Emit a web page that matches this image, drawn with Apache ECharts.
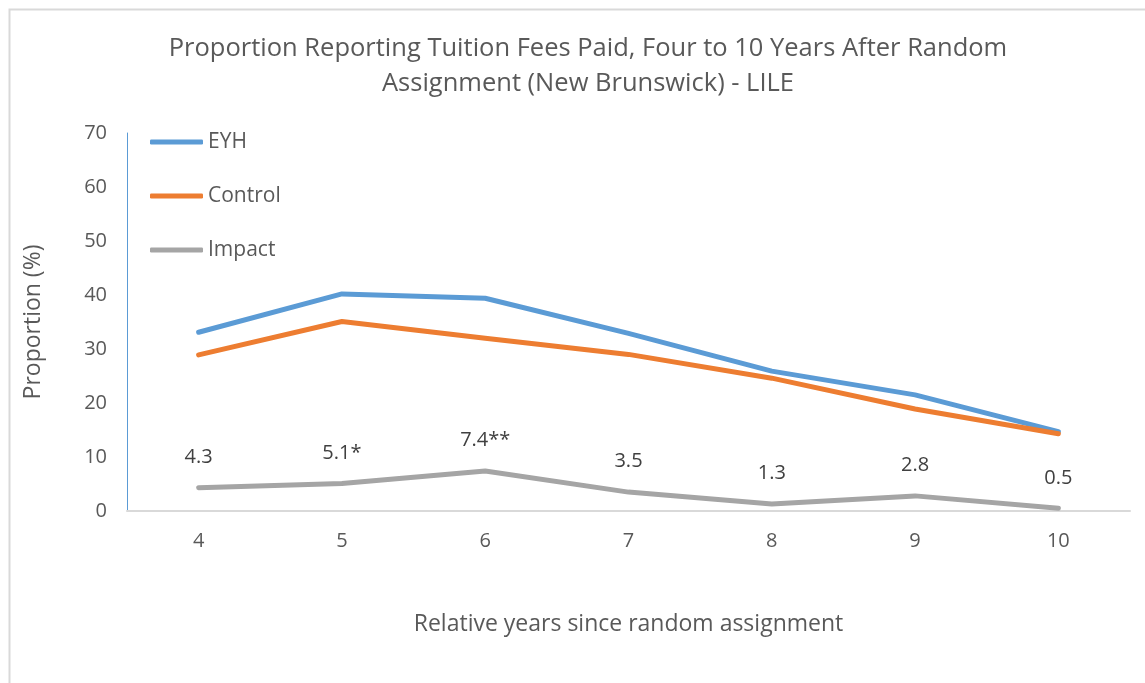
<!DOCTYPE html>
<html>
<head>
<meta charset="utf-8">
<script src="https://cdn.jsdelivr.net/npm/echarts@6/dist/echarts.min.js"></script>
<style>
  html, body { margin: 0; padding: 0; background: #fff; }
  #chart { width: 1145px; height: 683px; }
</style>
</head>
<body>
<div id="chart"></div>
<script>
// years since random assignment
const years = ['4', '5', '6', '7', '8', '9', '10']

// proportions (%)
const eyh = [33.1, 40.2, 39.4, 32.9, 25.9, 21.5, 14.7]
const control = [28.9, 35.1, 32.0, 29.0, 24.6, 18.9, 14.3]
const impact = [4.3, 5.1, 7.4, 3.5, 1.3, 2.8, 0.5]
const impactLabels = ['4.3', '5.1*', '7.4**', '3.5', '1.3', '2.8', '0.5']

const font = 'Open Sans'
const textColor = '#595959'

const chart = echarts.init(document.getElementById('chart'))

const lineSeries = (name, data, color) => ({
  name: name,
  type: 'line',
  data: data,
  symbol: 'none',
  lineStyle: { color: color, width: 5, cap: 'round', join: 'round' },
  itemStyle: { color: color }
})

const option = {
  backgroundColor: '#fff',
  animation: false,
  graphic: [{
    type: 'rect',
    left: 7,
    top: 7,
    shape: { width: 1200, height: 800 },
    style: { fill: 'none', stroke: '#d9d9d9', lineWidth: 2 },
    silent: true
  }],
  title: {
    text: 'Proportion Reporting Tuition Fees Paid, Four to 10 Years After Random\nAssignment (New Brunswick) - LILE',
    left: 583,
    top: 26,
    textAlign: 'center',
    textStyle: {
      fontFamily: font,
      fontSize: 25.5,
      fontWeight: 'normal',
      color: textColor,
      lineHeight: 35
    }
  },
  legend: {
    orient: 'vertical',
    left: 145,
    top: 126,
    icon: 'roundRect',
    itemWidth: 53,
    itemHeight: 5,
    itemGap: 32,
    textStyle: { fontFamily: font, fontSize: 21, color: textColor, lineHeight: 22 },
    data: ['EYH', 'Control', 'Impact']
  },
  grid: {
    left: 127,
    right: 15,
    top: 133,
    bottom: 172
  },
  xAxis: {
    type: 'category',
    data: years,
    boundaryGap: true,
    name: 'Relative years since random assignment',
    nameLocation: 'middle',
    nameGap: 102,
    nameTextStyle: { fontFamily: font, fontSize: 23, color: textColor },
    axisLine: { lineStyle: { color: '#d9d9d9', width: 2 } },
    axisTick: { show: false },
    axisLabel: { fontFamily: font, fontSize: 20, color: textColor, margin: 20 }
  },
  yAxis: {
    type: 'value',
    min: 0,
    max: 70,
    interval: 10,
    name: 'Proportion (%)',
    nameLocation: 'middle',
    nameGap: 82,
    nameTextStyle: { fontFamily: font, fontSize: 23, color: textColor },
    axisLine: { show: true, lineStyle: { color: '#5b9bd5', width: 1 } },
    axisTick: { show: false },
    splitLine: { show: false },
    axisLabel: { fontFamily: font, fontSize: 20, color: textColor, margin: 20 }
  },
  series: [
    lineSeries('EYH', eyh, '#5b9bd5'),
    lineSeries('Control', control, '#ed7d31'),
    Object.assign(lineSeries('Impact', impact, '#a5a5a5'), {
      symbol: 'circle',
      symbolSize: 1,
      showAllSymbol: true,
      label: {
        show: true,
        position: 'top',
        distance: 20,
        fontFamily: font,
        fontSize: 20,
        color: '#404040',
        formatter: (p) => impactLabels[p.dataIndex]
      }
    })
  ]
}

chart.setOption(option)
</script>
</body>
</html>
